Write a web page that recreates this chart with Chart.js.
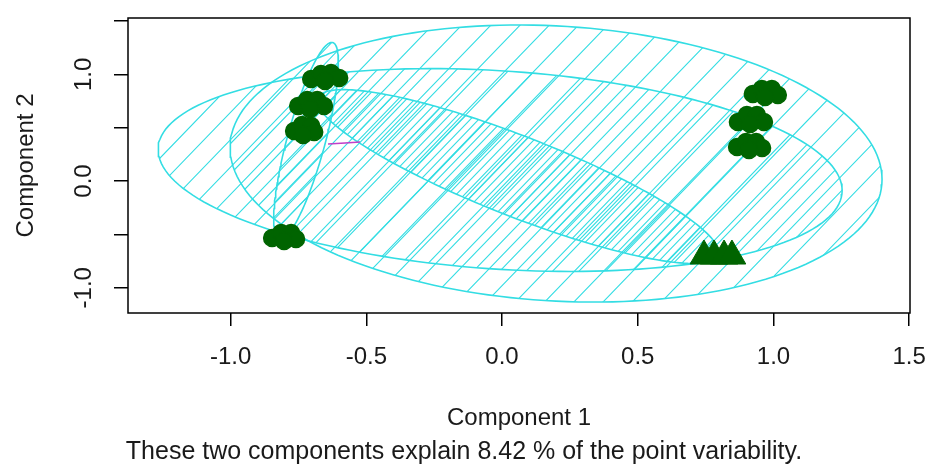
<!DOCTYPE html>
<html lang="en">
<head>
<meta charset="UTF-8" />
<title>Cluster plot</title>
<style>
  body { margin: 0; background: #fff; }
  #wrap { width: 931px; height: 470px; }
</style>
</head>
<body>
<div id="wrap"><canvas id="clusChart" width="931" height="470"></canvas></div>
<script src="https://cdn.jsdelivr.net/npm/chart.js"></script>
<script>
// axis ticks
const xTicks = [-1.0, -0.5, 0.0, 0.5, 1.0, 1.5];
const xTickLabels = ['-1.0', '-0.5', '0.0', '0.5', '1.0', '1.5'];
const yTicks = [-1.0, -0.5, 0.0, 0.5, 1.0, 1.5];
const yTickLabels = ['-1.0', '', '0.0', '', '1.0', ''];

// cluster ellipses: centre + two conjugate half-axes (component units)
const ellCx = [0.199, -0.007, -0.722, 0.059];
const ellCy = [0.164, 0.103, 0.375, 0.042];
const ellAx = [1.201, 1.260, 0.098, 0.737];
const ellAy = [-0.149, -0.192, 0.923, -0.736];
const ellBx = [0.0, 0.0, 0.068, -0.054];
const ellBy = [-1.290, -0.931, -0.046, -0.349];

// observations (dense groups of overlapping symbols)
const roundX = [
  -0.703, -0.667, -0.630, -0.600, -0.652,
  -0.751, -0.718, -0.681, -0.656, -0.707,
  -0.766, -0.737, -0.703, -0.692, -0.733,
  -0.847, -0.814, -0.777, -0.759, -0.803,
  0.924, 0.957, 0.994, 1.016, 0.969,
  0.869, 0.902, 0.939, 0.965, 0.914,
  0.866, 0.899, 0.936, 0.958, 0.910
];
const roundY = [
  0.956, 1.003, 1.012, 0.965, 0.937,
  0.703, 0.759, 0.759, 0.703, 0.675,
  0.469, 0.525, 0.515, 0.459, 0.431,
  -0.534, -0.487, -0.487, -0.544, -0.562,
  0.815, 0.862, 0.862, 0.806, 0.787,
  0.553, 0.619, 0.619, 0.553, 0.534,
  0.319, 0.366, 0.366, 0.309, 0.291
];
const triX = [0.744, 0.781, 0.818, 0.847];
const triY = [-0.703, -0.703, -0.703, -0.703];

// segment between clusters
const segX = [-0.641, -0.578, -0.523];
const segY = [0.347, 0.356, 0.366];

const xMin = -1.378, xMax = 1.503;
const yMin = -1.237, yMax = 1.528;

// shading line spacing (px) per ellipse
const hatchGap = [21, 19, 10, 6];
const hatchAngle = 46 * Math.PI / 180;
const clusCol = '#33dde3';
const ptCol = '#006400';

function outline(i) {
  const pts = [];
  for (let k = 0; k <= 180; k++) {
    const t = k / 180 * 2 * Math.PI;
    pts.push({
      x: ellCx[i] + ellAx[i] * Math.cos(t) + ellBx[i] * Math.sin(t),
      y: ellCy[i] + ellAy[i] * Math.cos(t) + ellBy[i] * Math.sin(t)
    });
  }
  return pts;
}

const datasets = [
  {
    type: 'scatter',
    data: roundX.map((v, i) => ({ x: v, y: roundY[i] })),
    pointStyle: 'circle', pointRadius: 8.5,
    backgroundColor: ptCol, borderColor: ptCol, borderWidth: 1.5
  },
  {
    type: 'scatter',
    data: triX.map((v, i) => ({ x: v, y: triY[i] })),
    pointStyle: 'triangle', pointRadius: 16,
    backgroundColor: ptCol, borderColor: ptCol, borderWidth: 1
  },
  {
    type: 'line',
    data: segX.map((v, i) => ({ x: v, y: segY[i] })),
    borderColor: '#c040c8', borderWidth: 1.5, pointRadius: 0, fill: false
  }
];
ellCx.forEach((c, i) => {
  datasets.push({
    type: 'line',
    data: outline(i),
    borderColor: clusCol, borderWidth: 1.6, pointRadius: 0, fill: false, tension: 0
  });
});

// shading lines inside each ellipse
const hatchPlugin = {
  id: 'hatch',
  beforeDatasetsDraw(chart) {
    const { ctx, scales: { x, y } } = chart;
    ctx.save();
    ellCx.forEach((c, i) => {
      const pts = outline(i).map(p => [x.getPixelForValue(p.x), y.getPixelForValue(p.y)]);
      const cx = x.getPixelForValue(c), cy = y.getPixelForValue(ellCy[i]);
      ctx.save();
      ctx.beginPath();
      pts.forEach((p, k) => k ? ctx.lineTo(p[0], p[1]) : ctx.moveTo(p[0], p[1]));
      ctx.closePath();
      ctx.clip();
      ctx.strokeStyle = clusCol;
      ctx.lineWidth = 1.1;
      const dx = Math.cos(hatchAngle), dy = -Math.sin(hatchAngle);
      const nx = -dy, ny = dx;
      const R = 500;
      ctx.beginPath();
      for (let o = -R; o <= R; o += hatchGap[i]) {
        const px = cx + nx * o, py = cy + ny * o;
        ctx.moveTo(px - dx * R, py - dy * R);
        ctx.lineTo(px + dx * R, py + dy * R);
      }
      ctx.stroke();
      ctx.restore();
    });
    ctx.restore();
  }
};

// box and R-style labels
const textPlugin = {
  id: 'rText',
  afterDraw(chart) {
    const { ctx, chartArea: a, scales: { x, y } } = chart;
    ctx.save();
    ctx.strokeStyle = '#000';
    ctx.lineWidth = 1.5;
    ctx.strokeRect(a.left, a.top, a.right - a.left, a.bottom - a.top);
    ctx.fillStyle = '#1a1a1a';
    ctx.font = '24px "Liberation Sans", Arial, sans-serif';
    ctx.textAlign = 'center';
    ctx.textBaseline = 'middle';
    xTicks.forEach((v, i) => ctx.fillText(xTickLabels[i], x.getPixelForValue(v), 357));
    yTicks.forEach((v, i) => {
      if (!yTickLabels[i]) return;
      ctx.save();
      ctx.translate(84, y.getPixelForValue(v));
      ctx.rotate(-Math.PI / 2);
      ctx.fillText(yTickLabels[i], 0, 0);
      ctx.restore();
    });
    ctx.fillText('Component 1', (a.left + a.right) / 2, 418);
    ctx.font = '25px "Liberation Sans", Arial, sans-serif';
    ctx.fillText('These two components explain 8.42 % of the point variability.', 464, 452);
    ctx.font = '24px "Liberation Sans", Arial, sans-serif';
    ctx.save();
    ctx.translate(26, (a.top + a.bottom) / 2);
    ctx.rotate(-Math.PI / 2);
    ctx.fillText('Component 2', 0, 0);
    ctx.restore();
    ctx.restore();
  }
};

new Chart(document.getElementById('clusChart'), {
  data: { datasets },
  options: {
    responsive: false,
    animation: false,
    layout: { padding: { left: 0, top: 18, right: 21, bottom: 0 } },
    plugins: { legend: { display: false }, tooltip: { enabled: false } },
    scales: {
      x: {
        type: 'linear', position: 'bottom', min: xMin, max: xMax,
        afterBuildTicks: s => { s.ticks = xTicks.map(v => ({ value: v })); },
        afterFit: s => { s.height = 157; },
        ticks: { display: false },
        grid: { drawOnChartArea: false, drawTicks: true, tickLength: 13, color: '#000', lineWidth: 1.5 },
        border: { display: false }
      },
      y: {
        type: 'linear', position: 'left', min: yMin, max: yMax,
        afterBuildTicks: s => { s.ticks = yTicks.map(v => ({ value: v })); },
        afterFit: s => { s.width = 128; },
        ticks: { display: false },
        grid: { drawOnChartArea: false, drawTicks: true, tickLength: 14, color: '#000', lineWidth: 1.5 },
        border: { display: false }
      }
    }
  },
  plugins: [hatchPlugin, textPlugin]
});
</script>
</body>
</html>
